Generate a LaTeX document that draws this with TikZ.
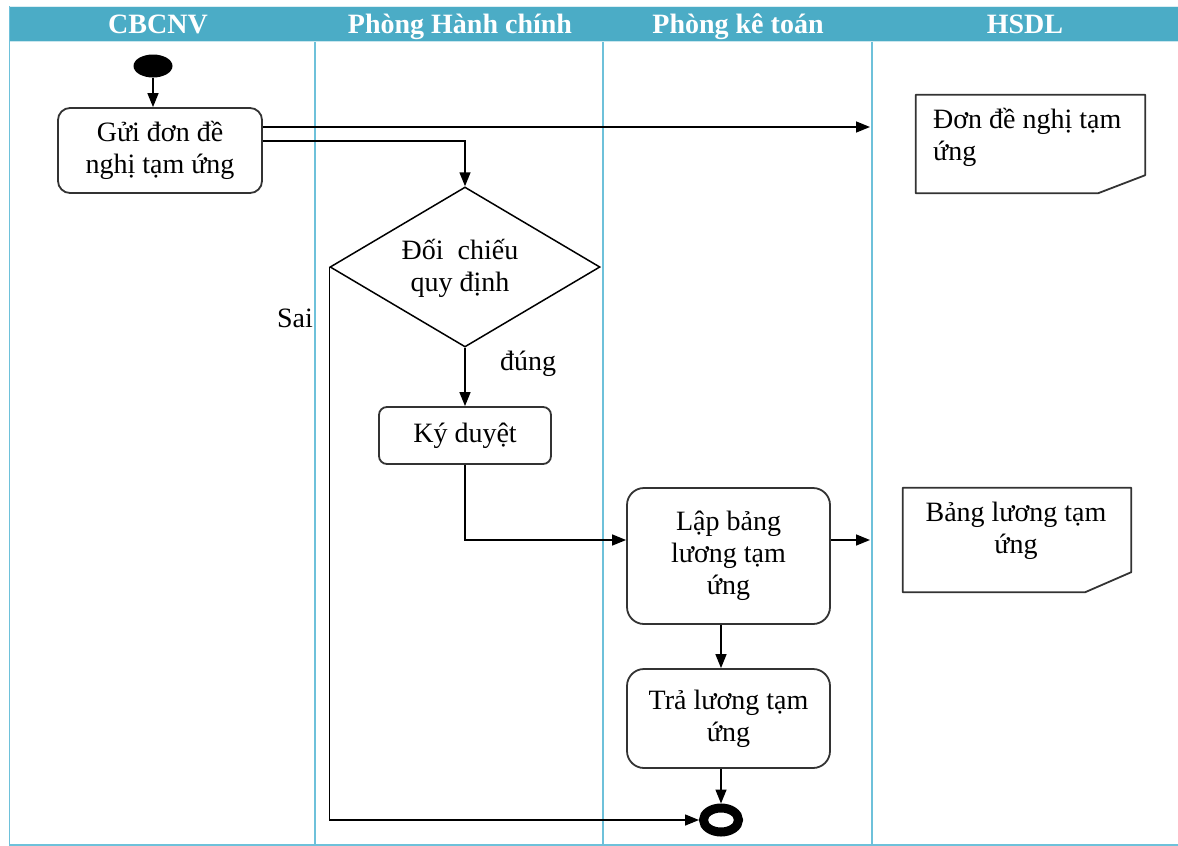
\documentclass[tikz,border=0pt]{standalone}
\usepackage{fontspec}
\setmainfont{Liberation Serif}
\usetikzlibrary{arrows.meta,shapes.geometric,calc}
\definecolor{headteal}{HTML}{4BACC6}
\definecolor{laneblue}{HTML}{6EC1DA}
\definecolor{boxgray}{HTML}{333333}
\begin{document}
\begin{tikzpicture}[x=1pt,y=-1pt,
  txt/.style={font=\fontsize{28}{32}\selectfont, align=center, inner sep=0pt},
  headtxt/.style={font=\fontsize{28}{30}\selectfont\bfseries, text=white, inner sep=0pt, anchor=base},
  lane/.style={draw=laneblue, line width=1.4pt},
  actbox/.style={draw=boxgray, line width=1.8pt, rounded corners=#1, txt},
  flow/.style={draw=black, line width=1.5pt, -{Triangle[length=14pt,width=11pt]}},
  docline/.style={draw=boxgray, line width=1.8pt, line join=round}
]
\useasboundingbox (0,0) rectangle (1178,846);
% header band
\fill[headteal] (9,6) rectangle (1178,42);
\draw[white!80!headteal, line width=1pt] (9,6.5) -- (1178,6.5);
\draw[white!70!headteal, line width=1pt] (9,41.5) -- (1178,41.5);
\node[headtxt] (h1) at (158,33) {CBCNV};
\node[headtxt] (h2) at (460,33) {Phòng Hành chính};
\node[headtxt] (h3) at (738,33) {Phòng kê toán};
\node[headtxt] (h4) at (1025,33) {HSDL};
% swimlane borders
\draw[lane] (9.5,6) -- (9.5,845);
\draw[lane] (315,42) -- (315,845);
\draw[lane] (603,42) -- (603,845);
\draw[lane] (872,42) -- (872,845);
\draw[lane] (9,845) -- (1178,845);

% start and end
\node[ellipse, fill=black, minimum width=39pt, minimum height=23pt, inner sep=0pt] (start) at (153,66) {};
\node[ellipse, draw=black, line width=9pt, fill=white, minimum width=35pt, minimum height=24pt, inner sep=0pt] (endn) at (721,820) {};

% activities
\node[actbox=12pt, minimum width=204pt, minimum height=85pt] (gui) at (160,150.5) {Gửi đơn đề\\nghị tạm ứng};
\node[diamond, draw=black, line width=1.5pt, minimum width=270pt, minimum height=160pt, inner sep=0pt, aspect=1.69] (dc) at (465,267) {};
\node[txt] (dctext) at (460,268) {Đối\ \ chiếu\\quy định};
\node[actbox=8pt, minimum width=172pt, minimum height=57pt] (ky) at (465,435.5) {Ký duyệt};
\node[actbox=17pt, minimum width=203pt, minimum height=136pt] (lap) at (728.5,556) {Lập bảng\\lương tạm\\ứng};
\node[actbox=17pt, minimum width=203pt, minimum height=99pt] (tra) at (728.5,718.5) {Trả lương tạm\\ứng};

% documents
\node[minimum width=229pt, minimum height=98pt, inner sep=0pt] (doc1) at (1030.5,144) {};
\draw[docline] (doc1.north west) -- (doc1.north east) -- ($(doc1.south east)+(0,-18)$) -- ($(doc1.south east)+(-47,0)$) -- (doc1.south west) -- cycle;
\node[txt, align=left, anchor=north west] (doc1text) at (933,108) {Đơn đề nghị tạm\\ứng};
\node[minimum width=228pt, minimum height=104pt, inner sep=0pt] (doc2) at (1017,540) {};
\draw[docline] (doc2.north west) -- (doc2.north east) -- ($(doc2.south east)+(0,-20)$) -- ($(doc2.south east)+(-46,0)$) -- (doc2.south west) -- cycle;
\node[txt] (doc2text) at (1016,531) {Bảng lương tạm\\ứng};

% connector end points
\coordinate (toDoc1) at (870,127);
\coordinate (toDoc2) at (870,540);
\coordinate (sendA) at (gui.east |- toDoc1);
\coordinate (sendB) at ($(gui.east)+(0,-9.5)$);
\coordinate (kyTurn) at (ky.south |- toDoc2);

% connectors
\draw[flow] (start.south) -- (start.south |- gui.north);
\draw[flow] (sendA) -- (toDoc1);
\draw[flow] (sendB) -| (dc.north);
\draw[flow] (dc.south) -- (ky.north);
\node[txt] (lbyes) at (528,364) {đúng};
\draw[flow] (dc.west) -- (dc.west |- endn) -- (endn.west);
\node[txt] (lbno) at (295,318) {Sai};
\draw[flow] (ky.south) -- (kyTurn) -- (lap.west |- kyTurn);
\draw[flow] (lap.east |- toDoc2) -- (toDoc2);
\draw[flow] (lap.south -| endn) -- (tra.north -| endn);
\draw[flow] (tra.south -| endn) -- (endn.north);
\end{tikzpicture}
\end{document}
